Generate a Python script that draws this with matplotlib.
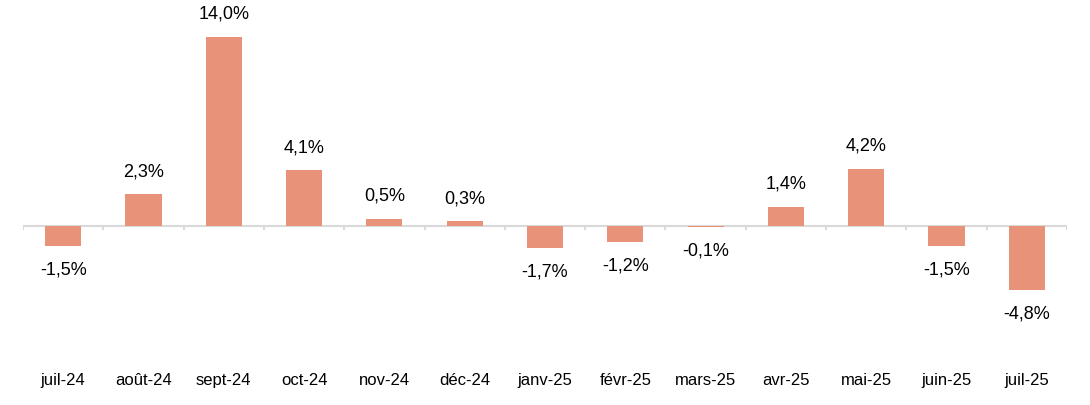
import matplotlib
matplotlib.use("Agg")
import matplotlib.pyplot as plt
import matplotlib.transforms as mtransforms

plt.rcParams['font.family'] = ['Liberation Sans', 'DejaVu Sans']

mois = ['juil-24', 'août-24', 'sept-24', 'oct-24', 'nov-24', 'déc-24', 'janv-25',
        'févr-25', 'mars-25', 'avr-25', 'mai-25', 'juin-25', 'juil-25']
variation = [-1.5, 2.3, 14.0, 4.1, 0.5, 0.3, -1.7, -1.2, -0.1, 1.4, 4.2, -1.5, -4.8]

BAR_COLOR = '#E9927A'
AXIS_COLOR = '#D9D9D9'

fig = plt.figure(figsize=(10.9, 4.06), dpi=100)
ax = fig.add_axes([23 / 1090, 85 / 406, (1067 - 23) / 1090, 297 / 406])

x = list(range(len(mois)))
ax.bar(x, variation, width=0.45, color=BAR_COLOR, zorder=2)

# axe horizontal + petites graduations entre catégories
ax.axhline(0, color=AXIS_COLOR, lw=1.5, zorder=1)
ax.vlines([i - 0.5 for i in range(len(mois) + 1)], -0.3, 0, color=AXIS_COLOR, lw=1.5, zorder=1)

for xi, v in zip(x, variation):
    lbl = f"{v:.1f}%".replace('.', ',')
    ax.annotate(lbl, (xi, v), xytext=(0, 17 if v >= 0 else -16.5), textcoords='offset points',
                ha='center', va='center', fontsize=13, color='#000000')

trans = mtransforms.blended_transform_factory(ax.transData, fig.transFigure)
for xi, m in zip(x, mois):
    ax.text(xi, 25 / 406, m, transform=trans, ha='center', va='center', fontsize=12, color='#000000')

ax.set_xlim(-0.5, len(mois) - 0.5)
ax.set_ylim(-7, 15)
ax.axis('off')

fig.savefig('out.png', dpi=100)
